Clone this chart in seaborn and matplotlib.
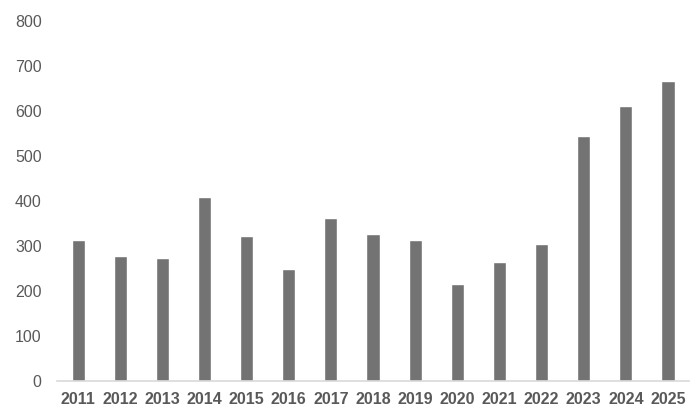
import pandas as pd
import seaborn as sns
import matplotlib.pyplot as plt

years = ['2011', '2012', '2013', '2014', '2015', '2016', '2017', '2018',
         '2019', '2020', '2021', '2022', '2023', '2024', '2025']
values = [312, 277, 272, 408, 322, 248, 362, 326, 314, 214, 264, 305, 545, 612, 668]
y_ticks = [0, 100, 200, 300, 400, 500, 600, 700, 800]

df = pd.DataFrame({'year': years, 'value': values})

sns.set_style("white")
plt.rcParams['font.family'] = ['Liberation Sans', 'DejaVu Sans']

fig = plt.figure(figsize=(7, 4.2), dpi=100)
ax = fig.add_axes([0.0814, 0.094, 0.903, 0.855])

sns.barplot(data=df, x='year', y='value', color='#737373', saturation=1,
            width=0.31, ax=ax)

ax.set_ylim(0, 800)
ax.set_xlim(-0.5, len(years) - 0.5)
ax.set_yticks(y_ticks)
ax.set_xlabel('')
ax.set_ylabel('')

for side in ['top', 'right', 'left']:
    ax.spines[side].set_visible(False)
ax.spines['bottom'].set_color('#d9d9d9')
ax.spines['bottom'].set_linewidth(1.2)

ax.tick_params(axis='y', length=0, pad=11, labelsize=11.5, labelcolor='#595959')
ax.tick_params(axis='x', length=0, pad=8, labelsize=11.5, labelcolor='#595959')
for lbl in ax.get_xticklabels():
    lbl.set_fontweight('bold')

fig.savefig('out.png', dpi=100)
